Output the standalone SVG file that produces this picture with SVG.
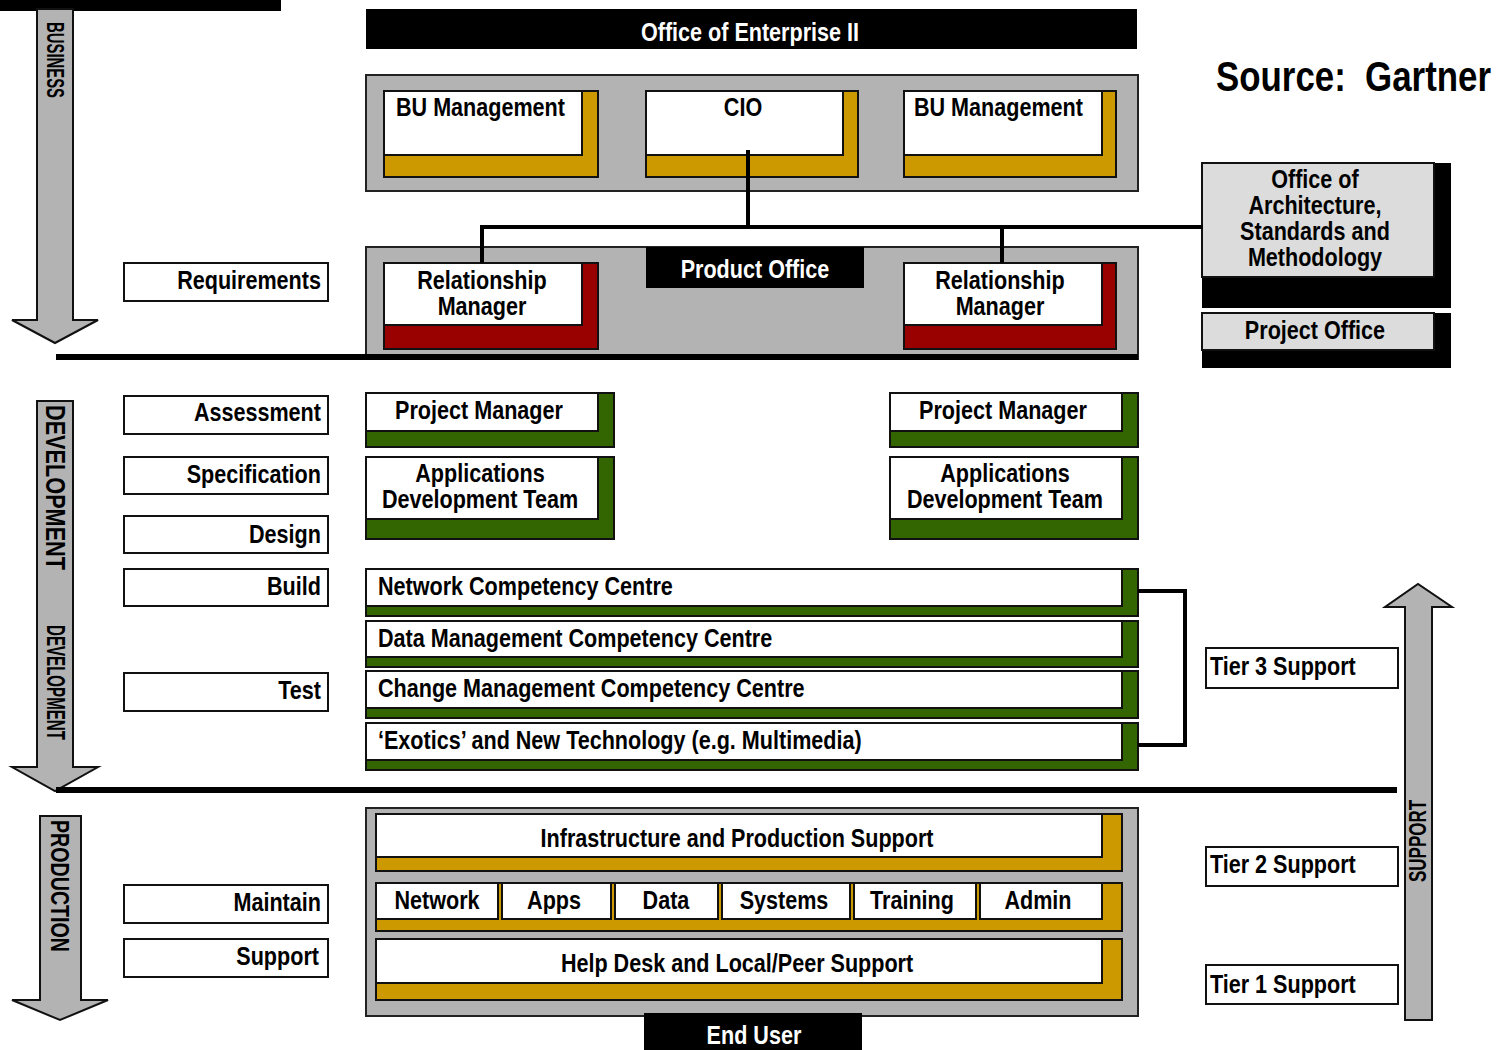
<svg xmlns="http://www.w3.org/2000/svg" width="1499" height="1050" viewBox="0 0 1499 1050">
<style>
.t{font-family:"Liberation Sans",Arial,sans-serif;font-weight:bold;font-size:26px;fill:#000}
.n{transform:scale(0.83,1)}
.w{fill:#fff}
.m{text-anchor:middle}
.e{text-anchor:end}
.box{fill:#fff;stroke:#111;stroke-width:2}
.gold{fill:#cc9900;stroke:#111;stroke-width:2}
.red{fill:#990000;stroke:#111;stroke-width:2}
.grn{fill:#336600;stroke:#111;stroke-width:2}
.panel{fill:#b3b3b3;stroke:#222;stroke-width:2}
.lg{fill:#dcdcdc;stroke:#111;stroke-width:2}
.arr{fill:#b3b3b3;stroke:#111;stroke-width:2}
.ln{fill:none;stroke:#000;stroke-width:4}
</style>

<!-- phase arrows -->
<g id="business-arrow">
<rect x="0" y="0" width="281" height="11" fill="#000"/>
<path class="arr" d="M37,9 H73 V320 H98 L55,343 L12,320 H37 Z"/>
<text class="t" transform="translate(47,22) rotate(90)" style="font-size:24px" textLength="76" lengthAdjust="spacingAndGlyphs">BUSINESS</text>
</g>
<g id="development-arrow">
<path class="arr" d="M37,401 H73 V767 H98 L55,791 L12,767 H37 Z"/>
<text class="t" transform="translate(46,405) rotate(90)" style="font-size:27px" textLength="165" lengthAdjust="spacingAndGlyphs">DEVELOPMENT</text>
<text class="t" transform="translate(47,625) rotate(90)" style="font-size:25px" textLength="115" lengthAdjust="spacingAndGlyphs">DEVELOPMENT</text>
</g>
<g id="production-arrow">
<path class="arr" d="M40,816 H81 V1000 H108 L60,1020 L12,1000 H40 Z"/>
<text class="t" transform="translate(51,820) rotate(90)" style="font-size:26px" textLength="132" lengthAdjust="spacingAndGlyphs">PRODUCTION</text>
</g>
<g id="support-arrow">
<path class="arr" d="M1405,1020 V607 H1385 L1418,584 L1452,607 H1432 V1020 Z"/>
<text class="t" transform="translate(1426,882) rotate(-90)" style="font-size:24px" textLength="82" lengthAdjust="spacingAndGlyphs">SUPPORT</text>
</g>

<!-- header -->
<g id="title">
<rect x="366" y="9" width="771" height="40" fill="#000"/>
<text class="t n w m" x="903.6" y="41">Office of Enterprise II</text>
</g>
<g id="source">
<text class="t n" x="1465.1" y="91" xml:space="preserve" style="font-size:42px;white-space:pre">Source:  Gartner</text>
</g>

<!-- top management panel -->
<g id="mgmt-panel">
<rect class="panel" x="366" y="75" width="772" height="116"/>
</g>
<g id="bu-management-1">
<rect class="gold" x="384" y="91" width="214" height="86"/>
<rect class="box" x="384" y="91" width="198" height="64"/>
<text class="t n" x="477.1" y="116">BU Management</text>
</g>
<g id="cio">
<rect class="gold" x="646" y="91" width="212" height="86"/>
<rect class="box" x="646" y="91" width="197" height="64"/>
<text class="t n m" x="895.2" y="116">CIO</text>
</g>
<g id="bu-management-2">
<rect class="gold" x="904" y="91" width="212" height="86"/>
<rect class="box" x="904" y="91" width="198" height="64"/>
<text class="t n" x="1101.2" y="116">BU Management</text>
</g>

<!-- product office panel -->
<g id="product-office">
<rect class="panel" x="366" y="247" width="772" height="112"/>
<rect x="646" y="247" width="218" height="41" fill="#000"/>
<text class="t n w m" x="909.6" y="278">Product Office</text>
</g>
<g id="relationship-manager-1">
<rect class="red" x="384" y="263" width="214" height="86"/>
<rect class="box" x="384" y="263" width="198" height="62"/>
<text class="t n m" x="580.7" y="289">Relationship</text>
<text class="t n m" x="580.7" y="315">Manager</text>
</g>
<g id="relationship-manager-2">
<rect class="red" x="904" y="263" width="212" height="86"/>
<rect class="box" x="904" y="263" width="198" height="62"/>
<text class="t n m" x="1204.8" y="289">Relationship</text>
<text class="t n m" x="1204.8" y="315">Manager</text>
</g>

<!-- architecture office -->
<g id="office-architecture">
<rect x="1202" y="163" width="249" height="145" fill="#000"/>
<rect class="lg" x="1202" y="163" width="232" height="114"/>
<text class="t n m" x="1584.3" y="188">Office of</text>
<text class="t n m" x="1584.3" y="214">Architecture,</text>
<text class="t n m" x="1584.3" y="240">Standards and</text>
<text class="t n m" x="1584.3" y="266">Methodology</text>
</g>
<g id="project-office">
<rect x="1202" y="313" width="249" height="55" fill="#000"/>
<rect class="lg" x="1202" y="313" width="232" height="37"/>
<text class="t n m" x="1584.3" y="339">Project Office</text>
</g>

<!-- phase labels -->
<g id="requirements"><rect class="box" x="124" y="263" width="204" height="38"/><text class="t n e" x="386.7" y="289">Requirements</text></g>
<g id="assessment"><rect class="box" x="124" y="396" width="204" height="38"/><text class="t n e" x="386.7" y="421">Assessment</text></g>
<g id="specification"><rect class="box" x="124" y="457" width="204" height="37"/><text class="t n e" x="386.7" y="483">Specification</text></g>
<g id="design"><rect class="box" x="124" y="516" width="204" height="37"/><text class="t n e" x="386.7" y="543">Design</text></g>
<g id="build"><rect class="box" x="124" y="569" width="204" height="37"/><text class="t n e" x="386.7" y="595">Build</text></g>
<g id="test"><rect class="box" x="124" y="673" width="204" height="38"/><text class="t n e" x="386.7" y="699">Test</text></g>
<g id="maintain"><rect class="box" x="124" y="885" width="204" height="38"/><text class="t n e" x="386.7" y="911">Maintain</text></g>
<g id="support"><rect class="box" x="124" y="939" width="204" height="38"/><text class="t n e" x="384.3" y="965">Support</text></g>

<!-- development teams -->
<g id="project-manager-1">
<rect class="grn" x="366" y="393" width="248" height="54"/>
<rect class="box" x="366" y="393" width="232" height="38"/>
<text class="t n m" x="577.1" y="419">Project Manager</text>
</g>
<g id="app-dev-team-1">
<rect class="grn" x="366" y="457" width="248" height="82"/>
<rect class="box" x="366" y="457" width="232" height="62"/>
<text class="t n m" x="578.3" y="482">Applications</text>
<text class="t n m" x="578.3" y="508">Development Team</text>
</g>
<g id="project-manager-2">
<rect class="grn" x="890" y="393" width="248" height="54"/>
<rect class="box" x="890" y="393" width="232" height="38"/>
<text class="t n m" x="1208.4" y="419">Project Manager</text>
</g>
<g id="app-dev-team-2">
<rect class="grn" x="890" y="457" width="248" height="82"/>
<rect class="box" x="890" y="457" width="232" height="62"/>
<text class="t n m" x="1210.8" y="482">Applications</text>
<text class="t n m" x="1210.8" y="508">Development Team</text>
</g>

<!-- competency centres -->
<g id="network-cc">
<rect class="grn" x="366" y="569" width="772" height="47"/>
<rect class="box" x="366" y="569" width="756" height="37"/>
<text class="t n" x="455.4" y="595">Network Competency Centre</text>
</g>
<g id="data-cc">
<rect class="grn" x="366" y="621" width="772" height="46"/>
<rect class="box" x="366" y="621" width="756" height="36"/>
<text class="t n" x="455.4" y="647">Data Management Competency Centre</text>
</g>
<g id="change-cc">
<rect class="grn" x="366" y="671" width="772" height="47"/>
<rect class="box" x="366" y="671" width="756" height="37"/>
<text class="t n" x="455.4" y="697">Change Management Competency Centre</text>
</g>
<g id="exotics">
<rect class="grn" x="366" y="723" width="772" height="47"/>
<rect class="box" x="366" y="723" width="756" height="37"/>
<text class="t n" x="455.4" y="749">‘Exotics’ and New Technology (e.g. Multimedia)</text>
</g>

<!-- tiers -->
<g id="tier3"><rect class="box" x="1206" y="648" width="192" height="40"/><text class="t n" x="1457.8" y="675">Tier 3 Support</text></g>
<g id="tier2"><rect class="box" x="1206" y="847" width="192" height="39"/><text class="t n" x="1457.8" y="873">Tier 2 Support</text></g>
<g id="tier1"><rect class="box" x="1206" y="965" width="192" height="39"/><text class="t n" x="1457.8" y="993">Tier 1 Support</text></g>

<!-- production panel -->
<g id="production-panel">
<rect class="panel" x="366" y="808" width="772" height="208"/>
</g>
<g id="infrastructure">
<rect class="gold" x="376" y="814" width="746" height="57"/>
<rect class="box" x="376" y="814" width="726" height="43"/>
<text class="t n m" x="888" y="847">Infrastructure and Production Support</text>
</g>
<g id="support-areas">
<rect class="gold" x="376" y="883" width="746" height="48"/>
<rect class="box" x="376" y="883" width="122" height="36"/>
<rect class="box" x="502" y="883" width="109" height="36"/>
<rect class="box" x="615" y="883" width="103" height="36"/>
<rect class="box" x="722" y="883" width="128" height="36"/>
<rect class="box" x="854" y="883" width="122" height="36"/>
<rect class="box" x="980" y="883" width="122" height="36"/>
<text class="t n m" x="526.5" y="909">Network</text>
<text class="t n m" x="667.5" y="909">Apps</text>
<text class="t n m" x="802.4" y="909">Data</text>
<text class="t n m" x="944.6" y="909">Systems</text>
<text class="t n m" x="1098.8" y="909">Training</text>
<text class="t n m" x="1250.6" y="909">Admin</text>
</g>
<g id="help-desk">
<rect class="gold" x="376" y="939" width="746" height="61"/>
<rect class="box" x="376" y="939" width="726" height="44"/>
<text class="t n m" x="888" y="972">Help Desk and Local/Peer Support</text>
</g>
<g id="end-user">
<rect x="644" y="1013" width="218" height="37" fill="#000"/>
<text class="t n w m" x="908.4" y="1044">End User</text>
</g>

<!-- separators and connectors -->
<g id="connectors">
<line x1="56" y1="357" x2="1138" y2="357" stroke="#000" stroke-width="6"/>
<line x1="56" y1="790" x2="1397" y2="790" stroke="#000" stroke-width="6"/>
<polyline class="ln" points="748,150 748,227"/>
<polyline class="ln" points="482,263 482,227 1203,227"/>
<polyline class="ln" points="1002,227 1002,263"/>
<polyline class="ln" stroke-width="3" points="1138,591 1185,591 1185,745 1138,745"/>
</g>
</svg>
